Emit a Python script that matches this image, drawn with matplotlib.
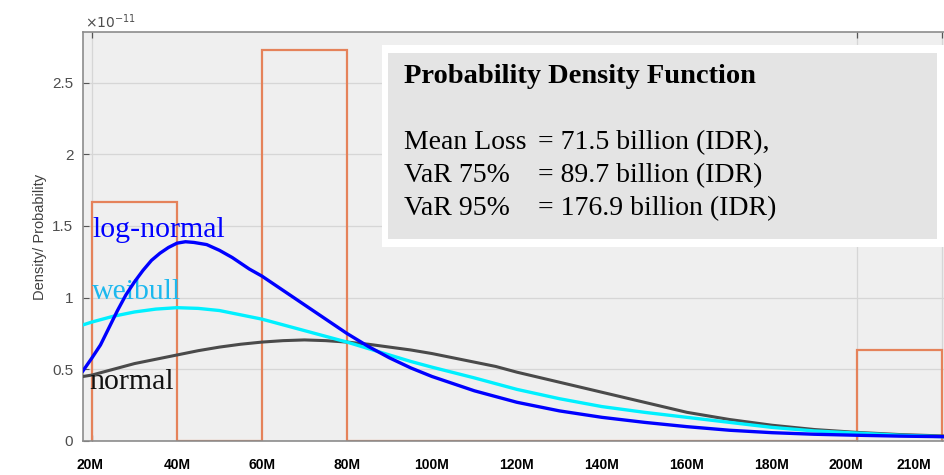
import matplotlib
matplotlib.use("Agg")
import matplotlib.pyplot as plt
from matplotlib.patches import Rectangle
from matplotlib.ticker import FixedLocator, NullFormatter

# histogram (stairs), units of 1e-11
bin_edges = [20, 40, 60, 80, 100, 120, 140, 160, 180, 200, 220]
bin_heights = [1.67, 0, 2.73, 0, 0, 0, 0, 0, 0, 0.634]

# fitted pdf curves, x in M, y in 1e-11
x_lognorm = [17.9, 20, 22, 24, 26, 28, 30, 32, 34, 36, 38, 40, 42, 44, 47, 50, 53, 57, 60,
             65, 70, 75, 80, 85, 90, 95, 100, 110, 120, 130, 140, 150, 160, 170, 180, 190,
             200, 210, 220.5]
y_lognorm = [0.49, 0.58, 0.67, 0.79, 0.91, 1.02, 1.11, 1.19, 1.26, 1.31, 1.35, 1.38, 1.39,
             1.385, 1.37, 1.33, 1.28, 1.20, 1.15, 1.05, 0.95, 0.85, 0.75, 0.66, 0.58, 0.51,
             0.45, 0.35, 0.27, 0.21, 0.165, 0.13, 0.10, 0.075, 0.058, 0.047, 0.04, 0.034, 0.03]

x_weibull = [17.9, 20, 25, 30, 35, 40, 45, 50, 55, 60, 65, 70, 75, 80, 85, 90, 95, 100, 110,
             120, 130, 140, 150, 160, 170, 180, 190, 200, 210, 220.5]
y_weibull = [0.81, 0.83, 0.87, 0.90, 0.92, 0.93, 0.925, 0.91, 0.88, 0.85, 0.81, 0.77, 0.73,
             0.69, 0.645, 0.60, 0.555, 0.515, 0.44, 0.36, 0.295, 0.24, 0.20, 0.165, 0.13,
             0.095, 0.07, 0.055, 0.04, 0.03]

x_normal = [17.9, 20, 25, 30, 35, 40, 45, 50, 55, 60, 65, 70, 75, 80, 85, 90, 95, 100, 105,
            110, 115, 120, 130, 140, 150, 160, 170, 180, 190, 200, 210, 220.5]
y_normal = [0.45, 0.46, 0.50, 0.54, 0.57, 0.60, 0.63, 0.655, 0.675, 0.69, 0.70, 0.705, 0.70,
            0.69, 0.675, 0.655, 0.635, 0.61, 0.58, 0.55, 0.52, 0.48, 0.41, 0.34, 0.27, 0.20,
            0.15, 0.11, 0.08, 0.06, 0.045, 0.035]

xtick_labels = ["20M", "40M", "60M", "80M", "100M", "120M", "140M", "160M", "180M", "200M", "210M"]
xtick_label_pos = [19.5, 40, 60, 80, 100, 120, 140, 160, 180, 197.5, 213.5]
yticks = [0, 0.5, 1, 1.5, 2, 2.5]
ytick_labels = ["0", "0.5", "1", "1.5", "2", "2.5"]

summary_title = "Probability Density Function"
summary_names = ["Mean Loss", "VaR 75%", "VaR 95%"]
summary_values = ["= 71.5 billion (IDR),", "= 89.7 billion (IDR)", "= 176.9 billion (IDR)"]

SERIF = ["Liberation Serif", "DejaVu Serif"]
SANS = ["Liberation Sans", "DejaVu Sans"]

fig = plt.figure(figsize=(9.44, 4.75), dpi=100)
ax = fig.add_axes([0.0879, 0.0716, 0.9121, 0.861])
ax.set_facecolor("#efefef")

ax.stairs(bin_heights, bin_edges, baseline=0, fill=False, color="#e5825a", linewidth=1.6, zorder=2)
ax.plot(x_normal, y_normal, color="#4a4a4a", linewidth=2.2, zorder=3)
ax.plot(x_weibull, y_weibull, color="#00f0ff", linewidth=2.4, zorder=4)
ax.plot(x_lognorm, y_lognorm, color="#0000ff", linewidth=2.4, zorder=5)

ax.set_xlim(17.88, 220.5)
ax.set_ylim(0, 2.853)

# gridlines and tick marks on bin edges, labels on their own positions
ax.xaxis.set_minor_locator(FixedLocator(bin_edges))
ax.xaxis.set_minor_formatter(NullFormatter())
ax.set_xticks(xtick_label_pos)
ax.set_xticklabels(xtick_labels, family=SANS, fontsize=10, fontweight="bold",
                   fontstretch="condensed")
ax.tick_params(axis="x", which="major", length=0, pad=12)
ax.tick_params(axis="x", which="minor", direction="in", length=4, top=True, bottom=True,
               color="#555555", width=0.9)
ax.set_yticks(yticks)
ax.set_yticklabels(ytick_labels, family=SANS, fontsize=11, color="#4d4d4d")
ax.tick_params(axis="y", direction="in", length=4, color="#555555", pad=7)
ax.grid(False)
ax.grid(True, which="minor", axis="x", color="#d6d6d6", linewidth=0.9)
ax.grid(True, which="major", axis="y", color="#d6d6d6", linewidth=0.9)
ax.set_axisbelow(True)

for side in ["left", "bottom", "top"]:
    ax.spines[side].set_color("#8c8c8c")
    ax.spines[side].set_linewidth(1.2)
ax.spines["right"].set_visible(False)

ax.set_ylabel("Density/ Probability", family=SANS, fontsize=10.5, color="#404040", labelpad=4)
fig.text(85 / 944, 1 - 28 / 475, r"$\times10^{-11}$", fontsize=10, color="#4d4d4d",
         va="baseline", ha="left")

# curve names
ax.text(20.0, 1.42, "log-normal", color="#0000ff", family=SERIF, fontsize=21.5, va="baseline")
ax.text(20.0, 0.99, "weibull", color="#1cb8ee", family=SERIF, fontsize=21.5, va="baseline")
ax.text(19.3, 0.36, "normal", color="#111111", family=SERIF, fontsize=21.5, va="baseline")

# summary box
fig.add_artist(Rectangle((382 / 944, 1 - 247 / 475), 562 / 944, 202 / 475,
                         transform=fig.transFigure, facecolor="white", edgecolor="none", zorder=10))
fig.add_artist(Rectangle((388 / 944, 1 - 239 / 475), 549 / 944, 186 / 475,
                         transform=fig.transFigure, facecolor="#e4e4e4", edgecolor="none", zorder=11))
fig.text(404 / 944, 1 - 83 / 475, summary_title, family=SERIF, fontsize=20.5, fontweight="bold",
         va="baseline", ha="left", zorder=12)
for i, (name, val) in enumerate(zip(summary_names, summary_values)):
    yb = 1 - (149 + i * 33) / 475
    fig.text(404 / 944, yb, name, family=SERIF, fontsize=20, va="baseline", ha="left", zorder=12)
    fig.text(538 / 944, yb, val, family=SERIF, fontsize=20, va="baseline", ha="left", zorder=12)

fig.savefig("out.png", dpi=100)
